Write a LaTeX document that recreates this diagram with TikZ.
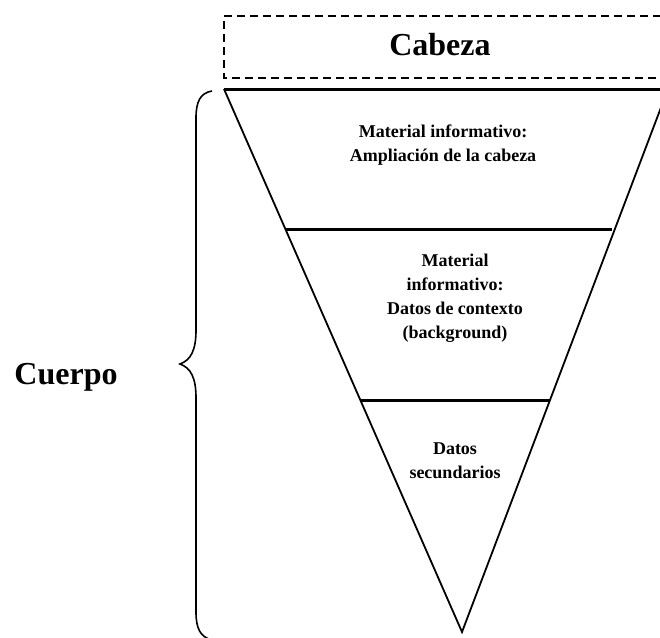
\documentclass[tikz,border=0pt]{standalone}
\usepackage{fontspec}
\setmainfont{Liberation Serif}
\begin{document}
\begin{tikzpicture}[x=1pt,y=-1pt,
	titulo/.style={font=\fontsize{32}{36}\selectfont\bfseries},
	texto/.style={font=\fontsize{18}{24}\selectfont\bfseries,align=center},
	franja/.style={line width=3pt}]
	\useasboundingbox (0,0) rectangle (660,637);
	\clip (0,0) rectangle (660,637);
	\draw[dash pattern=on 8pt off 5pt,line width=2.5pt] (700,16)--(224,16)--(224,78)--(700,78);
	\draw[franja] (224,89)--(700,89);
	\draw[line width=1.8pt] (224,89)--(462,632)--(668,89);
	\draw[franja] (285,229)--(612,229);
	\draw[franja] (360,400)--(550,400);
	\draw[line width=1.6pt] (212,91) .. controls (200,93) and (196,102) .. (196,118) -- (196,330) .. controls (196,350) and (191,360) .. (180,364) .. controls (191,368) and (196,378) .. (196,398) -- (196,612) .. controls (196,628) and (200,637) .. (212,640);
	\node[titulo] (cabeza) at (440,45) {Cabeza};
	\node[titulo] (cuerpo) at (66,377) {Cuerpo};
	\node[texto] (ampliacion) at (443,145) {Material informativo:\\Ampliación de la cabeza};
	\node[texto] (contexto) at (455,298) {Material\\informativo:\\Datos de contexto\\(background)};
	\node[texto] (secundarios) at (455,461) {Datos\\secundarios};
\end{tikzpicture}
\end{document}
